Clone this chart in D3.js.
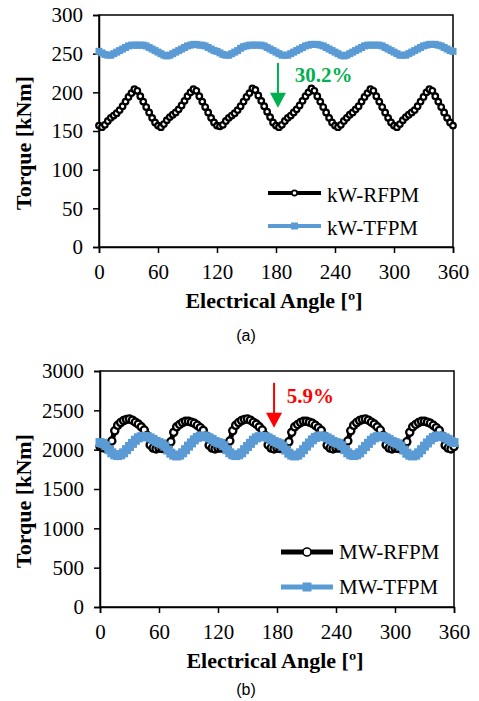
<!DOCTYPE html>
<html>
<head>
<meta charset="utf-8">
<script src="https://cdn.jsdelivr.net/npm/d3@7"></script>
<style>
  body { margin: 0; background: #fff; }
</style>
</head>
<body>
<div id="chart"></div>
<script>
const width = 479;
const height = 701;
const serif = '"Liberation Serif", "Times New Roman", Times, serif';
const sans = '"Liberation Sans", Arial, sans-serif';

// electrical angle, one sample every 3 degrees
const angles = d3.range(0, 361, 3);
const xTicks = [0, 60, 120, 180, 240, 300, 360];
const yTicksKw = [0, 50, 100, 150, 200, 250, 300];
const yTicksMw = [0, 500, 1000, 1500, 2000, 2500, 3000];

const kwRfpm = [
  157, 155, 158, 163, 167, 170, 173, 177, 182, 188, 194, 199, 204, 202, 195, 188, 181, 174, 167, 161,
  157, 155, 159, 164, 168, 171, 174, 178, 183, 189, 195, 200, 204, 202, 195, 188, 181, 174, 167, 161,
  157, 156, 158, 163, 167, 170, 173, 177, 182, 188, 194, 199, 205, 203, 196, 189, 182, 175, 168, 161,
  157, 155, 158, 163, 167, 170, 174, 178, 183, 189, 195, 200, 205, 202, 195, 188, 181, 174, 167, 161,
  157, 155, 158, 163, 167, 171, 174, 178, 182, 188, 194, 199, 204, 202, 195, 188, 181, 174, 167, 161,
  157, 155, 159, 164, 168, 171, 174, 177, 182, 188, 194, 200, 204, 202, 195, 188, 181, 174, 167, 161,
  157,
];
const kwTfpm = [
  253, 251, 249, 248, 248, 250, 252, 254, 256, 258, 260, 261, 261, 261, 261, 261, 260, 258, 256, 254,
  252, 250, 248, 247, 248, 250, 252, 254, 256, 258, 260, 261, 262, 262, 261, 261, 260, 258, 256, 254,
  253, 251, 249, 248, 248, 250, 252, 254, 257, 259, 260, 261, 261, 261, 261, 261, 260, 258, 256, 254,
  252, 250, 248, 248, 248, 250, 252, 254, 256, 258, 260, 261, 262, 262, 262, 261, 260, 258, 256, 254,
  252, 250, 248, 247, 248, 250, 252, 254, 256, 258, 260, 261, 261, 261, 261, 261, 260, 258, 256, 254,
  252, 250, 248, 248, 248, 250, 252, 254, 256, 258, 260, 261, 262, 262, 262, 261, 260, 258, 256, 254,
  253,
];
const mwRfpm = [
  2040, 2025, 2015, 2030, 2110, 2240, 2310, 2345, 2370, 2385, 2390, 2375, 2350, 2325, 2290, 2250, 2180, 2060, 2020, 2010,
  2020, 2015, 2010, 2030, 2100, 2220, 2290, 2320, 2345, 2360, 2360, 2350, 2335, 2310, 2280, 2245, 2175, 2055, 2020, 2010,
  2020, 2020, 2015, 2030, 2110, 2240, 2310, 2345, 2370, 2385, 2390, 2375, 2350, 2325, 2290, 2250, 2180, 2060, 2020, 2010,
  2020, 2015, 2010, 2030, 2100, 2220, 2290, 2320, 2345, 2360, 2360, 2350, 2335, 2310, 2280, 2245, 2175, 2055, 2020, 2010,
  2020, 2020, 2015, 2030, 2110, 2240, 2310, 2345, 2370, 2385, 2390, 2375, 2350, 2325, 2290, 2250, 2180, 2060, 2020, 2010,
  2020, 2015, 2010, 2030, 2100, 2220, 2290, 2320, 2345, 2360, 2360, 2350, 2335, 2310, 2280, 2245, 2175, 2055, 2020, 2010,
  2040,
];
const mwTfpm = [
  2090, 2080, 2050, 2000, 1960, 1935, 1925, 1935, 1960, 2000, 2040, 2080, 2120, 2150, 2165, 2170, 2165, 2150, 2130, 2105,
  2090, 2075, 2045, 1995, 1955, 1930, 1920, 1930, 1960, 2000, 2045, 2085, 2125, 2155, 2170, 2175, 2165, 2150, 2130, 2105,
  2090, 2080, 2050, 2000, 1960, 1935, 1925, 1935, 1960, 2000, 2040, 2080, 2120, 2150, 2165, 2170, 2165, 2150, 2130, 2105,
  2090, 2075, 2045, 1995, 1955, 1930, 1920, 1930, 1960, 2000, 2045, 2085, 2125, 2155, 2170, 2175, 2165, 2150, 2130, 2105,
  2090, 2080, 2050, 2000, 1960, 1935, 1925, 1935, 1960, 2000, 2040, 2080, 2120, 2150, 2165, 2170, 2165, 2150, 2130, 2105,
  2090, 2075, 2045, 1995, 1955, 1930, 1920, 1930, 1960, 2000, 2045, 2085, 2125, 2155, 2170, 2175, 2165, 2150, 2130, 2105,
  2090,
];

const blue = '#5b9bd5';

const svg = d3.select('#chart')
  .append('svg')
  .attr('width', width)
  .attr('height', height);

/**
 * Draws one torque panel (axes, frame, two series, legend, note, caption).
 */
function drawPanel(cfg) {
  const x = d3.scaleLinear().domain([0, 360]).range([cfg.left, cfg.right]);
  const y = d3.scaleLinear().domain([0, cfg.yMax]).range([cfg.bottom, cfg.top]);

  svg.append('rect')
    .attr('x', cfg.left)
    .attr('y', cfg.top)
    .attr('width', cfg.right - cfg.left)
    .attr('height', cfg.bottom - cfg.top)
    .attr('fill', 'none')
    .attr('stroke', '#000')
    .attr('stroke-width', 1.5);

  const xAxis = svg.append('g')
    .attr('transform', `translate(0, ${cfg.bottom})`)
    .call(d3.axisBottom(x).tickValues(xTicks).tickSizeOuter(0).tickSize(6).tickPadding(11));

  const yAxis = svg.append('g')
    .attr('transform', `translate(${cfg.left}, 0)`)
    .call(d3.axisLeft(y).tickValues(cfg.yTicks).tickFormat(d3.format('d'))
      .tickSizeOuter(0).tickSize(6).tickPadding(10));

  [xAxis, yAxis].forEach((g) => {
    g.selectAll('path, line').style('stroke', '#000').style('stroke-width', '1.5px');
    g.selectAll('text')
      .style('font-family', serif)
      .style('font-size', '21px')
      .style('fill', '#000');
  });

  const line = d3.line().x((d, i) => x(angles[i])).y(d => y(d));

  // radial flux machine: black line with open circles
  svg.append('path')
    .datum(cfg.rfpm)
    .attr('d', line)
    .attr('fill', 'none')
    .attr('stroke', '#000')
    .attr('stroke-width', cfg.blackW);
  svg.append('g').selectAll('circle')
    .data(cfg.rfpm)
    .enter()
    .append('circle')
    .attr('cx', (d, i) => x(angles[i]))
    .attr('cy', d => y(d))
    .attr('r', cfg.circleR)
    .attr('fill', '#fff')
    .attr('stroke', '#000')
    .attr('stroke-width', cfg.circleW);

  // transverse flux machine: blue line with squares
  svg.append('path')
    .datum(cfg.tfpm)
    .attr('d', line)
    .attr('fill', 'none')
    .attr('stroke', blue)
    .attr('stroke-width', cfg.blueW);
  svg.append('g').selectAll('rect')
    .data(cfg.tfpm)
    .enter()
    .append('rect')
    .attr('x', (d, i) => x(angles[i]) - cfg.square / 2)
    .attr('y', d => y(d) - cfg.square / 2)
    .attr('width', cfg.square)
    .attr('height', cfg.square)
    .attr('fill', blue);

  // legend
  const lg = cfg.legend;
  [
    { name: cfg.names[0], y: lg.y0, type: 'circle' },
    { name: cfg.names[1], y: lg.y1, type: 'square' },
  ].forEach((item) => {
    const color = item.type === 'circle' ? '#000' : blue;
    svg.append('line')
      .attr('x1', lg.x0).attr('x2', lg.x1)
      .attr('y1', item.y).attr('y2', item.y)
      .attr('stroke', color)
      .attr('stroke-width', lg.w);
    const mid = (lg.x0 + lg.x1) / 2;
    if (item.type === 'circle') {
      svg.append('circle')
        .attr('cx', mid).attr('cy', item.y).attr('r', lg.r)
        .attr('fill', '#fff').attr('stroke', '#000').attr('stroke-width', 1.6);
    } else {
      svg.append('rect')
        .attr('x', mid - lg.sq / 2).attr('y', item.y - lg.sq / 2)
        .attr('width', lg.sq).attr('height', lg.sq)
        .attr('fill', blue);
    }
    svg.append('text')
      .style('font-family', serif)
      .style('font-size', '21px')
      .attr('x', lg.x1 + 6)
      .attr('y', item.y + lg.dy)
      .text(item.name);
  });

  // ripple note with arrow
  const n = cfg.note;
  const ax = x(n.angle);
  const yTop = y(n.from);
  const yTip = y(n.to);
  svg.append('line')
    .attr('x1', ax).attr('x2', ax)
    .attr('y1', yTop).attr('y2', yTip - 12)
    .attr('stroke', n.color)
    .attr('stroke-width', 2);
  svg.append('path')
    .attr('d', `M${ax - 8},${yTip - 15}L${ax + 8},${yTip - 15}L${ax},${yTip}Z`)
    .attr('fill', n.color);
  svg.append('text')
    .style('font-family', serif)
    .style('font-size', '21px')
    .style('font-weight', 'bold')
    .attr('x', x(n.textAngle))
    .attr('y', y(n.textValue))
    .attr('fill', n.color)
    .text(n.text);

  // axis titles
  svg.append('text')
    .style('font-family', serif)
    .style('font-size', '22px')
    .style('font-weight', 'bold')
    .attr('text-anchor', 'middle')
    .attr('x', (cfg.left + cfg.right) / 2 - 2)
    .attr('y', cfg.bottom + 61)
    .text('Electrical Angle [º]');

  svg.append('text')
    .style('font-family', serif)
    .style('font-size', '22px')
    .style('font-weight', 'bold')
    .attr('text-anchor', 'middle')
    .attr('transform', `translate(31, ${(cfg.top + cfg.bottom) / 2 + 12}) rotate(-90)`)
    .text('Torque [kNm]');

  svg.append('text')
    .style('font-family', sans)
    .style('font-size', '16px')
    .attr('text-anchor', 'middle')
    .attr('x', 246)
    .attr('y', cfg.captionY)
    .text(cfg.caption);
}

drawPanel({
  left: 99, right: 453, top: 15, bottom: 247,
  yMax: 300, yTicks: yTicksKw,
  rfpm: kwRfpm, tfpm: kwTfpm,
  names: ['kW-RFPM', 'kW-TFPM'],
  circleR: 2.8, circleW: 2.2, blackW: 4.5, square: 7, blueW: 5,
  legend: { x0: 268, x1: 321, y0: 193, y1: 226, dy: 9, r: 2.6, sq: 7, w: 4 },
  note: { angle: 182, from: 238, to: 180, textAngle: 199, textValue: 213, text: '30.2%', color: '#00b050' },
  caption: '(a)', captionY: 341,
});

drawPanel({
  left: 100, right: 454, top: 371, bottom: 607,
  yMax: 3000, yTicks: yTicksMw,
  rfpm: mwRfpm, tfpm: mwTfpm,
  names: ['MW-RFPM', 'MW-TFPM'],
  circleR: 3.6, circleW: 2.3, blackW: 5, square: 9, blueW: 6,
  legend: { x0: 281, x1: 333, y0: 552, y1: 587, dy: 7, r: 4, sq: 9, w: 5 },
  note: { angle: 177, from: 2850, to: 2280, textAngle: 190, textValue: 2596, text: '5.9%', color: '#ff0000' },
  caption: '(b)', captionY: 695,
});
</script>
</body>
</html>
